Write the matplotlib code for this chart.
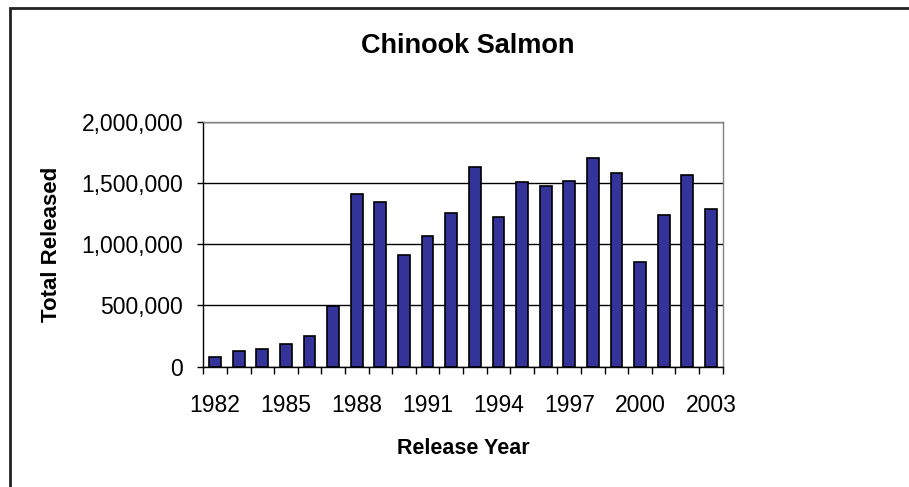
import matplotlib.pyplot as plt
from matplotlib.patches import Rectangle
from matplotlib.ticker import FuncFormatter, MultipleLocator

plt.rcParams['font.family'] = ['Liberation Sans', 'DejaVu Sans']

years = list(range(1982, 2004))
released = [77000, 126000, 142000, 185000, 248000, 498000, 1410000, 1347000,
            914000, 1069000, 1255000, 1628000, 1224000, 1505000, 1473000,
            1518000, 1704000, 1584000, 852000, 1241000, 1565000, 1287000]
label_years = [1982, 1985, 1988, 1991, 1994, 1997, 2000, 2003]

fig = plt.figure(figsize=(9.09, 4.87), dpi=100)
ax = fig.add_axes([0.2237, 0.247, 0.5713, 0.503])

x = list(range(len(years)))
ax.bar(x, released, width=0.5, color='#333399', edgecolor='black', linewidth=1.2, zorder=3)

ax.set_xlim(-0.5, len(years) - 0.5)
ax.set_ylim(0, 2000000)
ax.yaxis.set_major_locator(MultipleLocator(500000))
ax.yaxis.set_major_formatter(FuncFormatter(lambda v, p: f"{int(v):,}"))
ax.yaxis.grid(True, color='black', linewidth=1)

ax.set_xticks([years.index(y) for y in label_years])
ax.set_xticklabels([str(y) for y in label_years])
ax.set_xticks([i - 0.5 for i in range(len(years) + 1)], minor=True)
ax.tick_params(axis='x', which='major', length=0, pad=20, labelsize=16.5)
ax.tick_params(axis='x', which='minor', length=5, width=1, direction='out')
ax.tick_params(axis='y', length=4.5, width=1, pad=10, labelsize=16.5)

for s in ['left', 'bottom']:
    ax.spines[s].set_color('black')
    ax.spines[s].set_linewidth(1)
for s in ['top', 'right']:
    ax.spines[s].set_color('#808080')
    ax.spines[s].set_linewidth(1)

ax.set_xlabel('Release Year', fontsize=15.5, fontweight='bold', labelpad=15)
ax.set_ylabel('Total Released', fontsize=16, fontweight='bold', labelpad=14)
fig.text(468 / 909, 1 - 53 / 487, 'Chinook Salmon', ha='center', va='baseline',
         fontsize=19.5, fontweight='bold')

# outer chart border (right and bottom fall outside the image)
fig.patches.append(Rectangle((10 / 909, -0.5), 2, 1.5 - 8 / 487, transform=fig.transFigure,
                             fill=False, edgecolor='#222222', linewidth=2))

fig.savefig('out.png', dpi=100)
